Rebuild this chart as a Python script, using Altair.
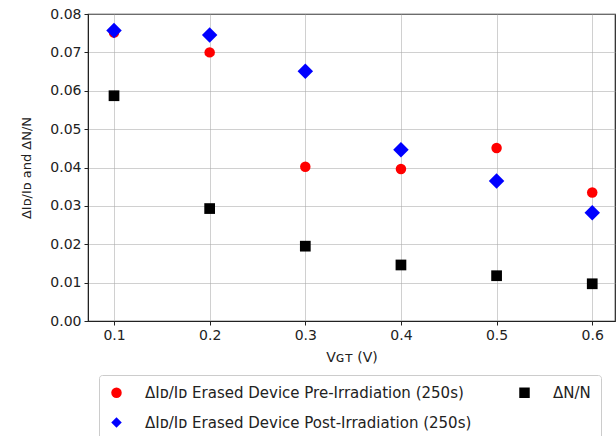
import altair as alt
import pandas as pd

vgt = [0.1, 0.2, 0.3, 0.4, 0.5, 0.6]
pre_irr = [0.0752, 0.0700, 0.0402, 0.0396, 0.0451, 0.0335]
post_irr = [0.0757, 0.0745, 0.0651, 0.0446, 0.0365, 0.0282]
dn_n = [0.0587, 0.0293, 0.0195, 0.0146, 0.0118, 0.0097]

s_pre = "ΔIᴅ/Iᴅ Erased Device Pre-Irradiation (250s)"
s_post = "ΔIᴅ/Iᴅ Erased Device Post-Irradiation (250s)"
s_dn = "ΔN/N"

marker_area = {s_pre: 110, s_post: 240, s_dn: 115}

rows = []
for i, x in enumerate(vgt):
    rows.append({"x": x, "y": pre_irr[i], "s": s_pre, "o": 0})
for i, x in enumerate(vgt):
    rows.append({"x": x, "y": post_irr[i], "s": s_post, "o": 1})
for i, x in enumerate(vgt):
    rows.append({"x": x, "y": dn_n[i], "s": s_dn, "o": 2})
df = pd.DataFrame(rows)
df["sz"] = df["s"].map(marker_area)

legend_order = [s_pre, s_post, s_dn]
colors = ["#ff0000", "#0000ff", "#000000"]
shapes = ["circle", "diamond", "square"]

font = "DejaVu Sans"

chart = alt.Chart(df).mark_point(filled=True, opacity=1).encode(
    x=alt.X("x:Q", scale=alt.Scale(domain=[0.0728, 0.6238], nice=False, zero=False),
            axis=alt.Axis(values=vgt, format=".1f", title="Vɢᴛ (V)")),
    y=alt.Y("y:Q", scale=alt.Scale(domain=[0, 0.08], nice=False),
            axis=alt.Axis(values=[0, 0.01, 0.02, 0.03, 0.04, 0.05, 0.06, 0.07, 0.08],
                          format=".2f", title="ΔIᴅ/Iᴅ and ΔN/N")),
    color=alt.Color("s:N", scale=alt.Scale(domain=legend_order, range=colors),
                    legend=alt.Legend(title=None, orient="none", legendX=11, legendY=361,
                                      columns=2, columnPadding=45, rowPadding=14,
                                      labelFont=font, labelFontSize=15, labelColor="#222",
                                      symbolSize=110, padding=10, labelOffset=21,
                                      strokeColor="#cccccc", cornerRadius=3,
                                      fillColor="white", labelLimit=500)),
    shape=alt.Shape("s:N", scale=alt.Scale(domain=legend_order, range=shapes)),
    size=alt.Size("sz:Q", scale=None),
    order=alt.Order("o:Q"),
).properties(
    width=527, height=307,
    autosize=alt.AutoSizeParams(type="none"),
    padding={"left": 88, "top": 14, "right": 1, "bottom": 115},
).configure_view(
    stroke="#222", strokeWidth=1.2
).configure_axis(
    labelFont=font, labelFontSize=14, labelColor="#222",
    titleFont=font, titleFontWeight="normal", titleColor="#222",
    gridColor="#aaaaaa", gridOpacity=0.55, gridWidth=1,
    domainColor="#222", tickColor="#222", tickSize=4, labelPadding=3,
    zindex=1,
).configure_axisX(
    titleFontSize=14, titlePadding=8,
).configure_axisY(
    titleFontSize=13, titlePadding=16,
)

chart.save("out.html", embed_options={"renderer": "svg", "actions": False})
